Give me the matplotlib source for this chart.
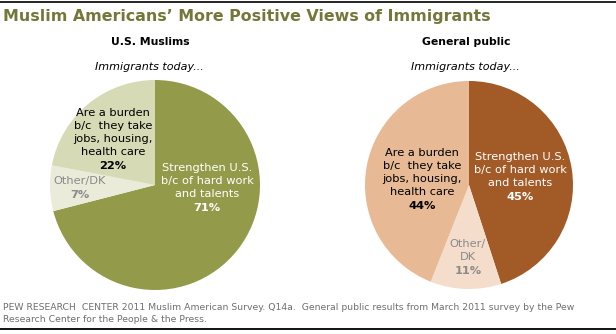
import matplotlib
matplotlib.use('Agg')
import matplotlib.pyplot as plt
from matplotlib.lines import Line2D

W, H = 616, 334

# data
labels = ['Strengthen', 'Other/DK', 'Burden']
muslims = [71, 7, 22]
general = [45, 11, 44]
col_muslims = ['#939B4A', '#EBEBDA', '#D6DAB5']
col_general = ['#A25A27', '#F5DDCC', '#E7B994']

fig = plt.figure(figsize=(W / 100, H / 100), dpi=100)

def px(x, y):
    return x / W, 1 - y / H

def pie_axes(cx, cy, r):
    return fig.add_axes([(cx - r) / W, 1 - (cy + r) / H, 2 * r / W, 2 * r / H])

ax1 = pie_axes(155, 185, 105)
ax1.pie(muslims, colors=col_muslims, startangle=90, counterclock=False, radius=1)
ax1.set_xlim(-1, 1); ax1.set_ylim(-1, 1)

ax2 = pie_axes(469, 185, 104)
ax2.pie(general, colors=col_general, startangle=90, counterclock=False, radius=1)
ax2.set_xlim(-1, 1); ax2.set_ylim(-1, 1)

# frame lines
fig.add_artist(Line2D([0, 1], [1 - 1.5 / H, 1 - 1.5 / H], color='black', lw=1.2))
fig.add_artist(Line2D([0, 1], [1 - 329 / H, 1 - 329 / H], color='black', lw=1.3))

fig.text(*px(3, 17), "Muslim Americans\u2019 More Positive Views of Immigrants",
         color='#75773A', fontsize=11.4, fontweight='bold', va='center', ha='left')

fig.text(*px(150, 42), 'U.S. Muslims', fontsize=7.8, fontweight='bold', ha='center', va='center')
fig.text(*px(466, 42), 'General public', fontsize=7.8, fontweight='bold', ha='center', va='center')
fig.text(*px(149, 67), 'Immigrants today...', fontsize=8, style='italic', ha='center', va='center')
fig.text(*px(465, 67), 'Immigrants today...', fontsize=8, style='italic', ha='center', va='center')

fs = 8.2
def label(x, y, lines, pct, color):
    for i, line in enumerate(lines):
        fig.text(*px(x, y + 13 * i), line, fontsize=fs, color=color, ha='center', va='center')
    fig.text(*px(x, y + 13 * len(lines) + 1), pct, fontsize=fs, color=color, ha='center',
             va='center', fontweight='bold')

burden = ['Are a burden', 'b/c  they take', 'jobs, housing,', 'health care']
strong = ['Strengthen U.S.', 'b/c of hard work', 'and talents']

label(207, 168, strong, '%d%%' % muslims[0], 'white')
label(80, 181, ['Other/DK'], '%d%%' % muslims[1], '#8A8A8A')
label(113, 113, burden, '%d%%' % muslims[2], 'black')

label(520, 157, strong, '%d%%' % general[0], 'white')
label(468, 244, ['Other/', 'DK'], '%d%%' % general[1], '#8A8A8A')
label(422, 153, burden, '%d%%' % general[2], 'black')

fig.text(*px(3, 308), 'PEW RESEARCH  CENTER 2011 Muslim American Survey. Q14a.  General public results '
         'from March 2011 survey by the Pew', fontsize=6.7, color='#6E6E6E', va='center')
fig.text(*px(3, 320), 'Research Center for the People & the Press.', fontsize=6.7,
         color='#6E6E6E', va='center')

fig.savefig('out.png', dpi=100)
